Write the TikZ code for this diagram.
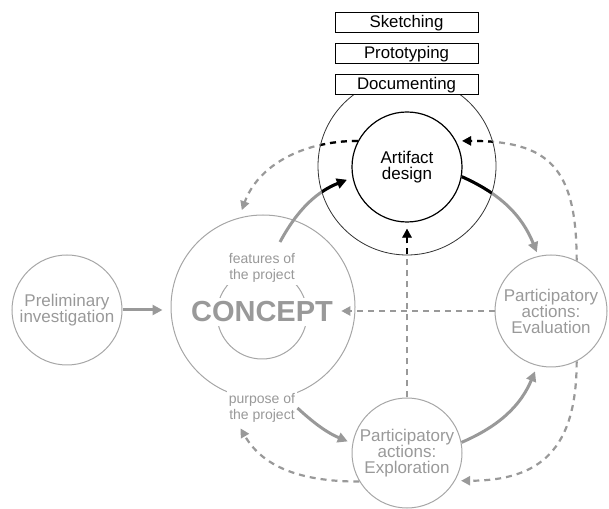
\documentclass[tikz,border=0pt]{standalone}
\usepackage{fontspec}
\setmainfont{Liberation Sans}
\usetikzlibrary{positioning, arrows.meta}
\definecolor{softgray}{gray}{0.6}
\definecolor{linegray}{gray}{0.65}

\begin{document}
\begin{tikzpicture}[x=0.5pt, y=0.5pt,
	phase/.style={circle, draw=linegray, line width=0.5pt, text=softgray, align=center, inner sep=0pt, font=\fontsize{8.5}{8}\selectfont},
	tool/.style={draw, line width=0.5pt, fill=white, minimum width=71.5pt, minimum height=10pt, inner sep=0pt, font=\fontsize{8.4}{9}\selectfont},
	note/.style={fill=white, text=softgray, align=center, inner sep=1pt, font=\fontsize{7}{8}\selectfont},
	flowarrow/.style={line width=1.5pt, draw=softgray, -{Triangle[length=5pt,width=5pt]}},
	feedback/.style={line width=1.1pt, draw=softgray, dash pattern=on 3pt off 2.5pt, -{Triangle[length=4.5pt,width=4.5pt]}}]
		\useasboundingbox (0,0) rectangle (609,508);
		% phases
		\node[phase, minimum size=55pt] (prelim) at (67,198) {Preliminary\\investigation};
		\node[phase, minimum size=92pt] (concept) at (263,201) {}; \node[phase, minimum size=45pt] (core) at (262,194) {};
		\node[phase, minimum size=89pt, draw=black!80, line width=0.4pt] (ring) at (407,342) {};
		\node[phase, minimum size=55pt, draw=black, text=black, line width=0.6pt] (art) at (407,341) {Artifact\\design};
		\node[phase, minimum size=56pt] (eval) at (551,197) {Participatory\\actions:\\Evaluation};
		\node[phase, minimum size=55pt] (explo) at (407,55) {Participatory\\actions:\\Exploration};
		% tools
		\node[tool] (sketch) at (406.5,485) {Sketching};
		\node[tool, below=5pt of sketch] (proto) {Prototyping};
		\node[tool, below=5pt of proto] (docu) {Documenting};
		% concept labels
		\node[note, inner sep=2pt, font=\fontsize{14.5}{16}\bfseries] (conceptlabel) at (262,196) {CONCEPT};
		\node[note] (features) at (262,240) {features of\\the project};
		\node[note] (purpose) at (262,100) {purpose of\\the project};
		% main flow
		\draw[flowarrow, shorten >=4pt] (prelim.east) -- (prelim.east -| concept.west);
		\draw[flowarrow, shorten >=3pt] ([shift={(17,65)}]concept.center) to[bend left=20] (art.191);
		\draw[flowarrow, shorten >=2pt] (art.-10) to[bend left=22] (eval.103);
		\draw[flowarrow, shorten >=3pt] (explo.11) to[bend right=22] (eval.256);
		\draw[flowarrow, shorten >=2.5pt] (purpose.east) to[bend right=10] (explo.170);
		% feedback
		\draw[feedback, shorten >=4pt] (art.152) to[out=180, in=70] (concept.105);
		\draw[feedback, shorten >=3pt] (eval.63) to[out=90, in=0, looseness=1.4] (art.28);
		\draw[feedback, shorten >=2pt] (eval.west) -- (eval.west -| conceptlabel.east);
		\draw[feedback, shorten >=3pt] (explo.north) -- (art.south);
		\draw[feedback, shorten >=2pt] (explo.211) to[out=180, in=-60] ([xshift=6pt]purpose.south west);
		\draw[feedback, shorten >=3pt] (eval.-63) to[out=-90, in=0, looseness=1.3] (explo.-30);
		% black inside the ring
		\begin{scope}
			\clip (ring.center) circle[radius=44.5pt];
			\draw[flowarrow, draw=black, shorten >=3pt] ([shift={(17,65)}]concept.center) to[bend left=20] (art.191);
			\draw[flowarrow, draw=black, shorten >=2pt] (art.-10) to[bend left=22] (eval.103);
			\draw[feedback, draw=black] (art.152) to[out=180, in=70] (concept.105);
			\draw[feedback, draw=black, shorten >=3pt] (eval.63) to[out=90, in=0, looseness=1.4] (art.28);
			\draw[feedback, draw=black, shorten >=3pt] (explo.north) -- (art.south);
		\end{scope}
	\end{tikzpicture}
\end{document}
